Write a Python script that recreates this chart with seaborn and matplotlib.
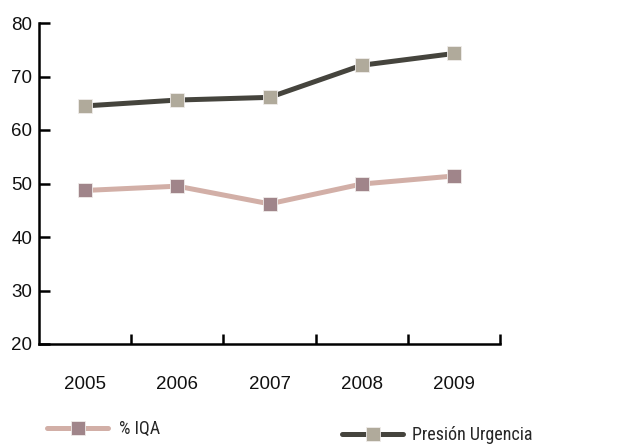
import matplotlib
matplotlib.use("Agg")
import matplotlib.pyplot as plt
import seaborn as sns
import pandas as pd
from matplotlib.ticker import FixedLocator

years = ["2005", "2006", "2007", "2008", "2009"]
iqa = [48.7, 49.5, 46.2, 49.9, 51.4]
presion = [64.5, 65.6, 66.1, 72.1, 74.3]
series_names = ["% IQA", "Presión Urgencia"]
yticks = [20, 30, 40, 50, 60, 70, 80]

sns.set_theme(style="white")
plt.rcParams['font.family'] = ['Liberation Sans', 'DejaVu Sans']

fig = plt.figure(figsize=(6.34, 4.47), dpi=100)
ax = fig.add_axes([39/634, 1-344/447, 461/634, 321/447])

df = pd.DataFrame({"year": years * 2,
                   "value": iqa + presion,
                   "serie": [series_names[0]] * 5 + [series_names[1]] * 5})

line_colors = {"% IQA": "#d2afa7", "Presión Urgencia": "#45443d"}
marker_colors = {"% IQA": "#a0858a", "Presión Urgencia": "#b0aa9b"}

handles = {}
for name in series_names:
    sub = df[df.serie == name]
    sns.lineplot(data=sub, x="year", y="value", ax=ax, color=line_colors[name],
                 lw=3.6, marker="s", markersize=10, markerfacecolor=marker_colors[name],
                 markeredgecolor="#f0ecea", markeredgewidth=0.6, legend=False)
    handles[name] = ax.get_lines()[-1]

ax.set_xlim(-0.5, 4.5)
ax.set_ylim(20, 80)
ax.set_yticks(yticks)
ax.set_xticks(range(len(years)))
ax.set_xticklabels(years)
ax.xaxis.set_minor_locator(FixedLocator([0.5, 1.5, 2.5, 3.5, 4.5]))
ax.tick_params(axis="x", which="major", length=0, pad=23, labelsize=13.5, colors="#111111")
ax.tick_params(axis="x", which="minor", length=7, width=1.8, direction="in", bottom=True, color="black")
ax.tick_params(axis="y", which="major", length=8, width=1.8, direction="in", left=True,
               labelsize=13.5, pad=5, color="black", labelcolor="#111111")
ax.set_xlabel("")
ax.set_ylabel("")
for s in ["top", "right"]:
    ax.spines[s].set_visible(False)
for s in ["left", "bottom"]:
    ax.spines[s].set_linewidth(1.8)
    ax.spines[s].set_color("black")

leg_font = {"family": ["Roboto Condensed", "Liberation Sans", "DejaVu Sans"], "size": 13}
leg1 = fig.legend([handles["% IQA"]], ["% IQA"], loc="center left",
                  bbox_to_anchor=(38/634, 1-429/447), frameon=False, prop=leg_font,
                  handlelength=3.4, numpoints=1, handletextpad=0.6, borderpad=0)
leg2 = fig.legend([handles["Presión Urgencia"]], ["Presión Urgencia"], loc="center left",
                  bbox_to_anchor=(333/634, 1-435/447), frameon=False, prop=leg_font,
                  handlelength=3.4, numpoints=1, handletextpad=0.5, borderpad=0)

fig.savefig("out.png", dpi=100)
